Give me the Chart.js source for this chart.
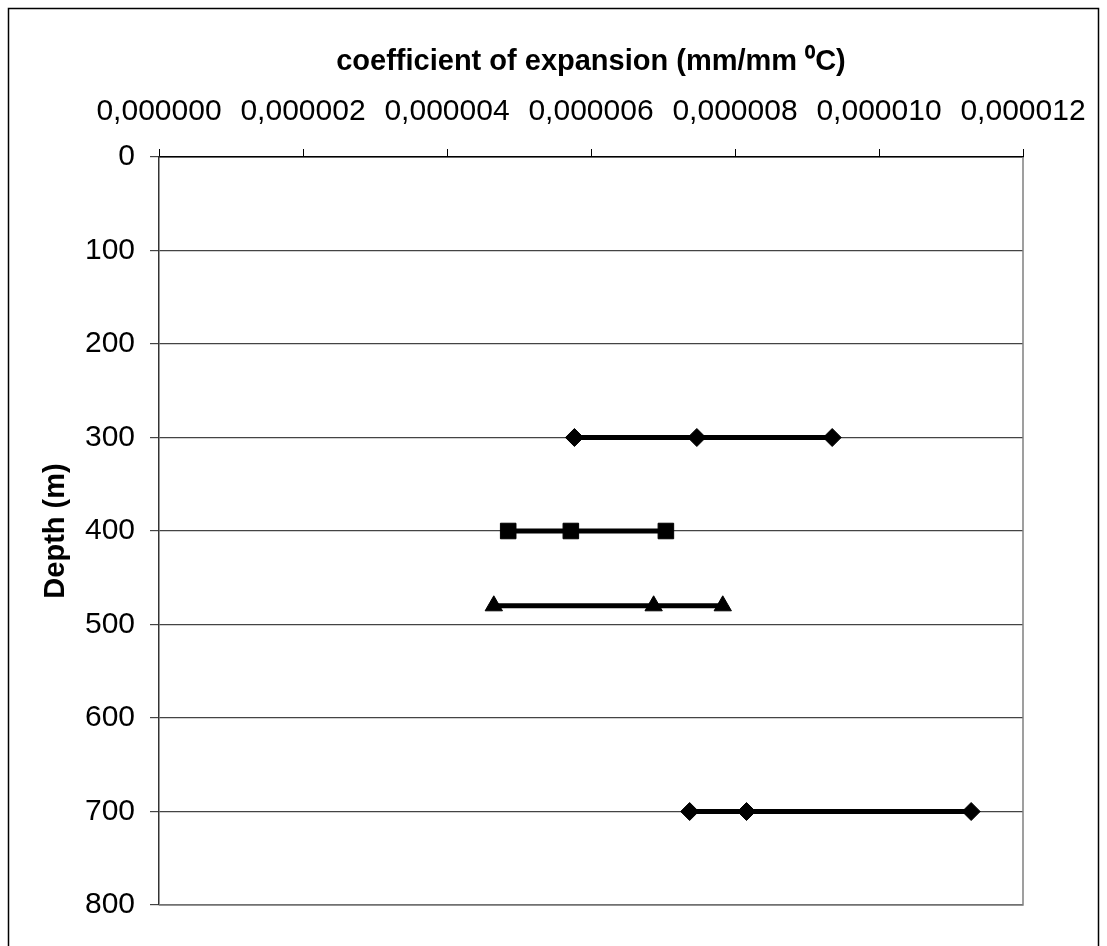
<!DOCTYPE html>
<html>
<head>
<meta charset="utf-8">
<script src="https://cdn.jsdelivr.net/npm/chart.js@4"></script>
<style>
  body { margin: 0; background: #fff; }
  #wrap { width: 1107px; height: 946px; }
</style>
</head>
<body>
<div id="wrap"><canvas id="chart" width="1107" height="946"></canvas></div>
<script>
// depth levels (m)
const depth300 = 300;
const depth400 = 400;
const depth480 = 480;
const depth700 = 700;

// coefficient of expansion values (mm/mm °C) at each depth
const coef300 = [0.00000577, 0.00000747, 0.00000935];
const coef400 = [0.00000485, 0.00000572, 0.00000704];
const coef480 = [0.00000465, 0.00000687, 0.00000783];
const coef700 = [0.00000737, 0.00000816, 0.00001128];

const xTicks = [0, 0.000002, 0.000004, 0.000006, 0.000008, 0.000010, 0.000012];
const yTicks = [0, 100, 200, 300, 400, 500, 600, 700, 800];

function toPoints(xs, depth) {
    return xs.map(x => ({ x: x, y: depth }));
}

function makeSet(label, xs, depth, shape, radius) {
    return {
        label: label,
        data: toPoints(xs, depth),
        showLine: true,
        borderColor: "#000",
        backgroundColor: "#000",
        borderWidth: 5,
        pointStyle: shape,
        pointRadius: radius,
        pointBorderWidth: 1,
    };
}

const boxPlugin = {
    id: "boxes",
    afterDraw(chart) {
        const ctx = chart.ctx;
        const a = chart.chartArea;
        ctx.save();
        // right and bottom sides of the plot area
        ctx.strokeStyle = "#808080";
        ctx.lineWidth = 1.5;
        ctx.beginPath();
        ctx.moveTo(a.right, a.top);
        ctx.lineTo(a.right, a.bottom);
        ctx.lineTo(a.left, a.bottom);
        ctx.stroke();
        // outer frame
        ctx.strokeStyle = "#000";
        ctx.lineWidth = 1.5;
        ctx.strokeRect(8.5, 8.5, 1090, 960);
        ctx.restore();
    }
};

const tickFont = { family: "'Liberation Sans', Arial, sans-serif", size: 30 };
const titleFont = { family: "'Liberation Sans', Arial, sans-serif", size: 29, weight: "bold" };

new Chart(document.getElementById("chart").getContext("2d"), {
    type: "scatter",
    data: {
        datasets: [
            makeSet("300 m", coef300, depth300, "rectRot", 9),
            makeSet("400 m", coef400, depth400, "rect", 11),
            makeSet("480 m", coef480, depth480, "triangle", 10),
            makeSet("700 m", coef700, depth700, "rectRot", 9),
        ],
    },
    options: {
        animation: false,
        responsive: false,
        layout: { padding: { left: 39, top: 45, right: 84, bottom: 41 } },
        plugins: {
            legend: { display: false },
            tooltip: { enabled: false },
        },
        scales: {
            x: {
                type: "linear",
                position: "top",
                min: 0,
                max: 0.000012,
                afterBuildTicks(scale) {
                    scale.ticks = xTicks.map(v => ({ value: v }));
                },
                afterFit(scale) { scale.height = 157 - 45; },
                ticks: {
                    color: "#000",
                    font: tickFont,
                    padding: 19,
                    maxRotation: 0,
                    autoSkip: false,
                    callback: v => v.toFixed(6).replace(".", ","),
                },
                grid: {
                    drawOnChartArea: false,
                    drawTicks: true,
                    tickLength: 8,
                    color: "#000",
                },
                border: { display: true, color: "#000", width: 1.5 },
                title: {
                    display: true,
                    text: "coefficient of expansion (mm/mm \u2070C)",
                    color: "#000",
                    font: titleFont,
                    padding: { top: 0, bottom: 0 },
                },
            },
            y: {
                type: "linear",
                reverse: true,
                min: 0,
                max: 800,
                afterBuildTicks(scale) {
                    scale.ticks = yTicks.map(v => ({ value: v }));
                },
                afterFit(scale) { scale.width = 159 - 39; },
                ticks: {
                    color: "#000",
                    font: tickFont,
                    padding: 15,
                    autoSkip: false,
                },
                grid: {
                    color: "#444",
                    lineWidth: 1.2,
                    tickLength: 9,
                },
                border: { display: true, color: "#333", width: 1.5 },
                title: {
                    display: true,
                    text: "Depth (m)",
                    color: "#000",
                    font: titleFont,
                    padding: { top: 0, bottom: 0 },
                },
            },
        },
    },
    plugins: [boxPlugin],
});
</script>
</body>
</html>
